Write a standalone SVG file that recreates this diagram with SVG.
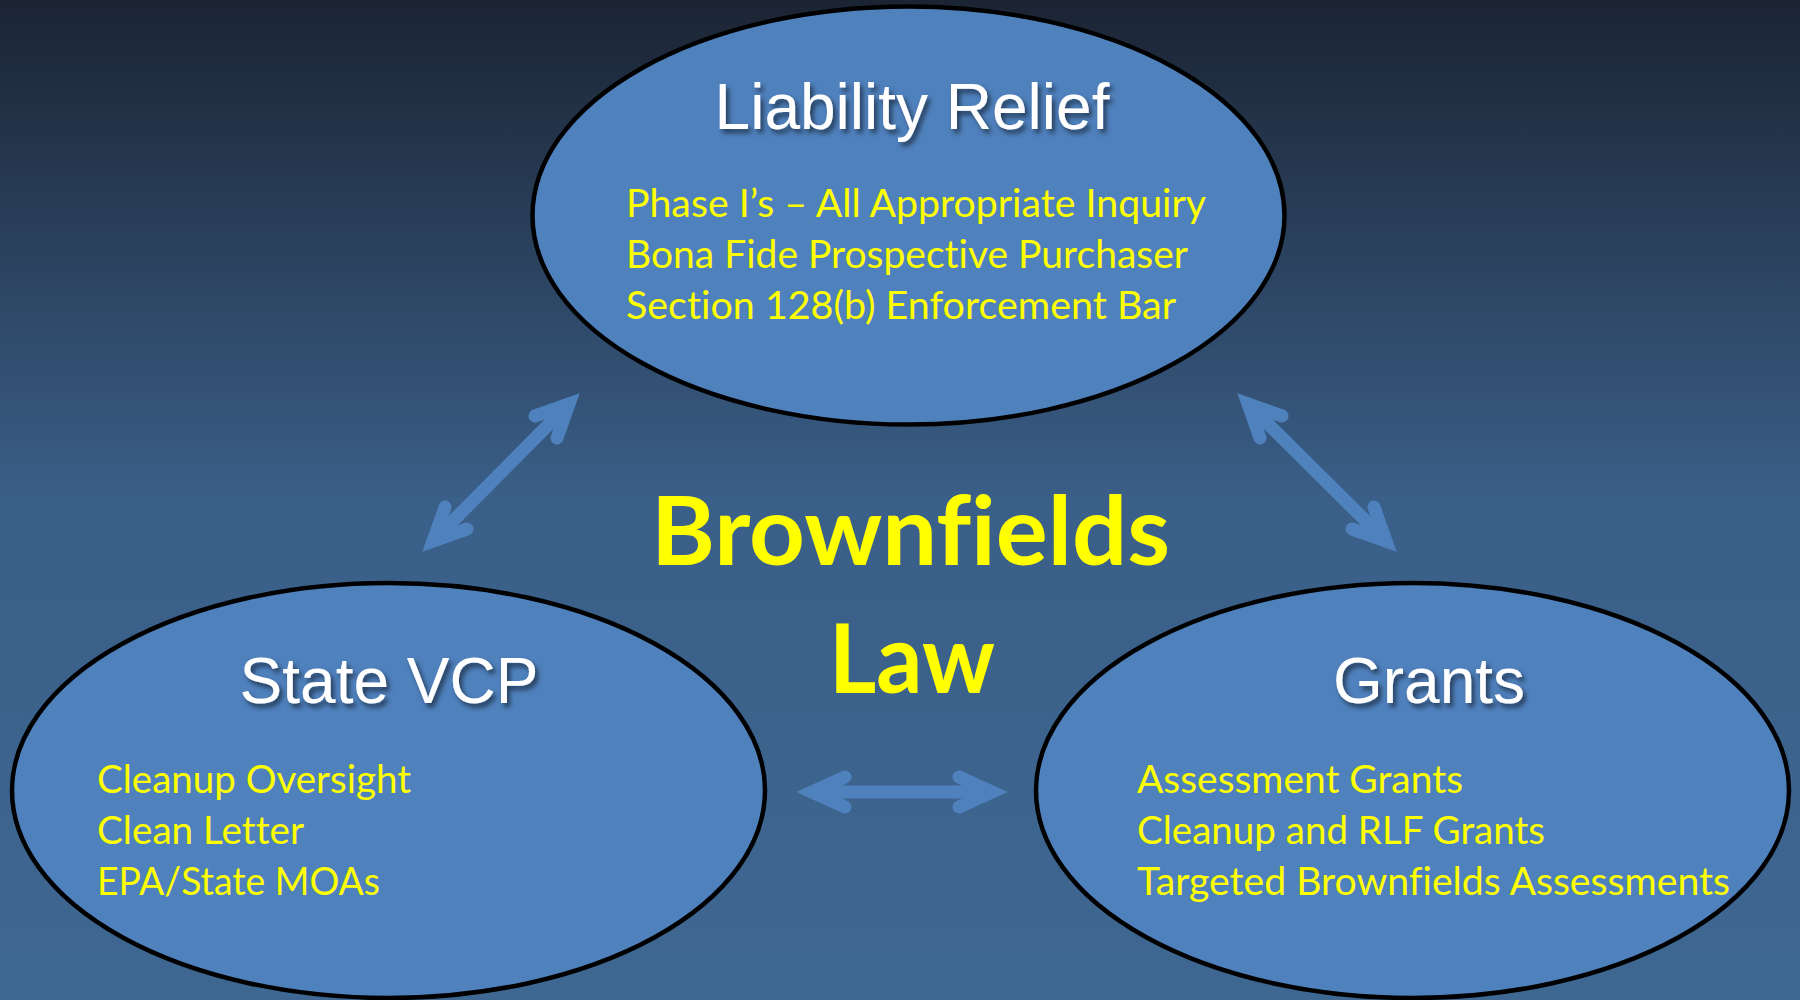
<svg xmlns="http://www.w3.org/2000/svg" width="1800" height="1000" viewBox="0 0 1800 1000">
<defs>
<linearGradient id="bg" x1="0" y1="0" x2="0" y2="1">
<stop offset="0" stop-color="#1b2433"/>
<stop offset="0.5" stop-color="#3a5f88"/>
<stop offset="1" stop-color="#3e6791"/>
</linearGradient>
<filter id="sh" x="-10%" y="-30%" width="130%" height="170%">
<feDropShadow dx="3" dy="4" stdDeviation="2.5" flood-color="#000" flood-opacity="0.55"/>
</filter>
</defs>
<style>
.node{fill:#4f81bd;stroke:#000;stroke-width:4.5}
.title{font-family:"Liberation Sans",Arial,sans-serif;font-size:64px;fill:#fff;text-anchor:middle}
.item{font-family:Lato,"Open Sans",sans-serif;font-size:38px;fill:#ffff00;font-variant-ligatures:none}
.big{font-family:Lato,"Open Sans",sans-serif;font-weight:bold;font-size:96px;fill:#ffff00;font-variant-ligatures:none}
.arr{fill:none;stroke:#4f81bd;stroke-width:13;stroke-linecap:round;stroke-linejoin:miter}
</style>
<rect width="1800" height="1000" fill="url(#bg)"/>
<g id="connectors">
<path class="arr" d="M433,541 L569,404"/>
<path class="arr" d="M535,416 L569,404 L557,438"/>
<path class="arr" d="M467,529 L433,541 L445,507"/>
<path class="arr" d="M1248,404 L1386,541"/>
<path class="arr" d="M1260,438 L1248,404 L1282,416"/>
<path class="arr" d="M1374,507 L1386,541 L1352,529"/>
<path class="arr" d="M812,792 L992,792"/>
<path class="arr" d="M845,777 L812,792 L845,807"/>
<path class="arr" d="M959,777 L992,792 L959,807"/>
</g>
<g id="liability">
<ellipse class="node" cx="908.5" cy="215.5" rx="376" ry="209"/>
<text class="title" x="912" y="129" filter="url(#sh)">Liability Relief</text>
<text class="item" x="626" y="217" textLength="580" lengthAdjust="spacingAndGlyphs">Phase I’s – All Appropriate Inquiry</text>
<text class="item" x="626" y="268" textLength="562" lengthAdjust="spacingAndGlyphs">Bona Fide Prospective Purchaser</text>
<text class="item" x="626" y="319" textLength="550" lengthAdjust="spacingAndGlyphs">Section 128(b) Enforcement Bar</text>
</g>
<g id="statevcp">
<ellipse class="node" cx="388.5" cy="790.5" rx="376.5" ry="207.5"/>
<text class="title" x="389" y="703" filter="url(#sh)">State VCP</text>
<text class="item" x="97" y="793" textLength="314" lengthAdjust="spacingAndGlyphs">Cleanup Oversight</text>
<text class="item" x="97" y="844" textLength="207" lengthAdjust="spacingAndGlyphs">Clean Letter</text>
<text class="item" x="97" y="895" textLength="283" lengthAdjust="spacingAndGlyphs">EPA/State MOAs</text>
</g>
<g id="grants">
<ellipse class="node" cx="1412.5" cy="790.5" rx="376.5" ry="207.5"/>
<text class="title" x="1429" y="703" filter="url(#sh)">Grants</text>
<text class="item" x="1137" y="793" textLength="326" lengthAdjust="spacingAndGlyphs">Assessment Grants</text>
<text class="item" x="1137" y="844" textLength="408" lengthAdjust="spacingAndGlyphs">Cleanup and RLF Grants</text>
<text class="item" x="1137" y="895" textLength="593" lengthAdjust="spacingAndGlyphs">Targeted Brownfields Assessments</text>
</g>
<g id="center">
<text class="big" x="651" y="565" textLength="519" lengthAdjust="spacingAndGlyphs">Brownfields</text>
<text class="big" x="829" y="693" textLength="166" lengthAdjust="spacingAndGlyphs">Law</text>
</g>
</svg>
